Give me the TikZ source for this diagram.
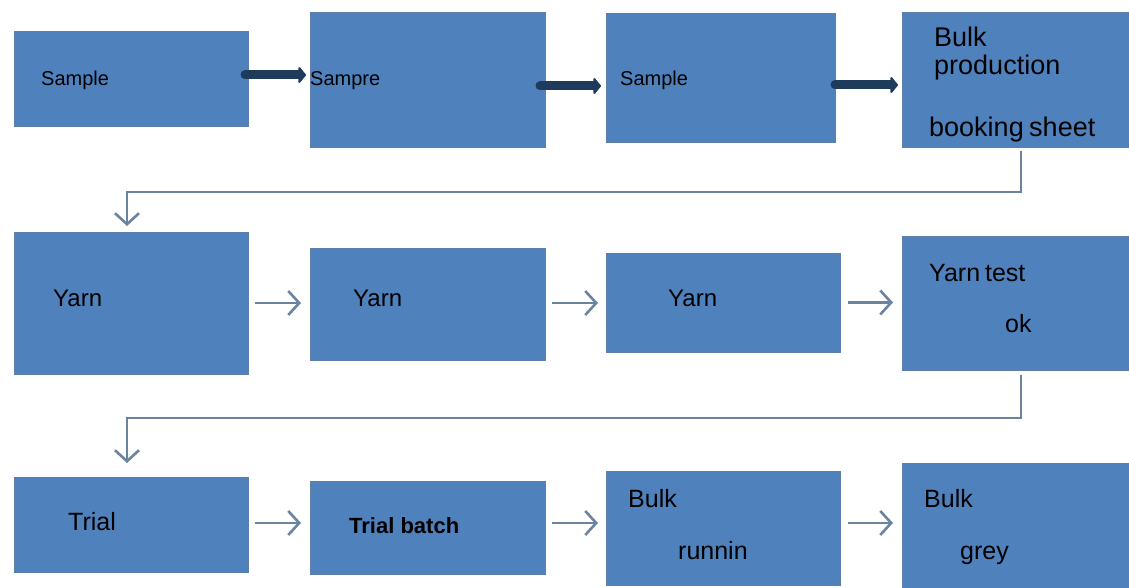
\documentclass[tikz,border=0pt]{standalone}
\usepackage{fontspec}
\setmainfont{Liberation Sans}
\usetikzlibrary{arrows.meta}
\definecolor{boxblue}{HTML}{4F81BD}
\definecolor{boxedge}{HTML}{5E7FA8}
\definecolor{navy}{HTML}{1F3B5C}
\definecolor{flowgray}{HTML}{6A84A0}
\tikzset{
  blk/.style={draw=boxedge, line width=1pt, fill=boxblue, inner sep=0pt, outer sep=0pt, anchor=north west},
  txt/.style={anchor=base west, inner sep=0pt, text=black},
  fs/.style={font=\fontsize{#1}{#1}\selectfont},
  boldarrow/.style={draw=navy, line width=9pt, line cap=round, -{Triangle[length=8pt,width=19pt,round]}},
  flow/.style={draw=flowgray, line width=2.6pt, -{Straight Barb[length=11pt,width=24pt]}},
}
\begin{document}
\begin{tikzpicture}[x=1pt,y=-1pt]
\useasboundingbox (0,0) rectangle (1129,588);
% row 1
\node[blk, minimum width=234pt, minimum height=95pt] (b1) at (14,32) {};
\node[blk, minimum width=235pt, minimum height=135pt] (b2) at (310,13) {};
\node[blk, minimum width=229pt, minimum height=129pt] (b3) at (606,14) {};
\node[blk, minimum width=232pt, minimum height=135pt] (b4) at (902,13) {};
% row 2
\node[blk, minimum width=234pt, minimum height=142pt] (b5) at (14,232) {};
\node[blk, minimum width=235pt, minimum height=112pt] (b6) at (310,248) {};
\node[blk, minimum width=234pt, minimum height=99pt] (b7) at (606,253) {};
\node[blk, minimum width=232pt, minimum height=134pt] (b8) at (902,236) {};
% row 3
\node[blk, minimum width=234pt, minimum height=95pt] (b9) at (14,477) {};
\node[blk, minimum width=235pt, minimum height=93pt] (b10) at (310,481) {};
\node[blk, minimum width=234pt, minimum height=114pt] (b11) at (606,471) {};
\node[blk, minimum width=232pt, minimum height=130pt] (b12) at (902,463) {};

% texts
\node[txt, fs=20] (t1) at (41,86) {Sample};
\node[txt, fs=20] (t2) at (310,86) {Sampre};
\node[txt, fs=20] (t3) at (620,86) {Sample};
\node[txt, fs=27] (t4a) at (934,47) {Bulk};
\node[txt, fs=27] (t4b) at (934,75) {production};
\node[txt, fs=27] (t4c) at (929,137) {booking\kern-2pt\ sheet};
\node[txt, fs=24] (t5) at (53,306) {Yarn};
\node[txt, fs=24] (t6) at (353,306) {Yarn};
\node[txt, fs=24] (t7) at (668,306) {Yarn};
\node[txt, fs=25] (t8a) at (929,281) {Yarn\kern-2pt\ test};
\node[txt, fs=25] (t8b) at (1005,332) {ok};
\node[txt, fs=25] (t9) at (68,530) {Trial};
\node[txt, fs=22] (t10) at (349,533) {\bfseries Trial batch};
\node[txt, fs=25] (t11a) at (628,507) {Bulk};
\node[txt, fs=25] (t11b) at (678,559) {runnin};
\node[txt, fs=25] (t12a) at (924,507) {Bulk};
\node[txt, fs=25] (t12b) at (960,559) {grey};

% row 1 bold arrows
\draw[boldarrow] ([xshift=-3pt,yshift=4.5pt]b1.east) -- ([xshift=-4pt,yshift=5.5pt]b2.west);
\draw[boldarrow] ([xshift=-5pt,yshift=-5.5pt]b2.east) -- ([xshift=-5pt,yshift=-7.5pt]b3.west);
\draw[boldarrow] ([xshift=0pt,yshift=-6.5pt]b3.east) -- ([xshift=-4pt,yshift=-4.5pt]b4.west);

% elbow connectors
\draw[flow] ([xshift=3pt,yshift=-3pt]b4.south) -- ++(0,41) -| ([xshift=-4pt,yshift=6pt]b5.north);
\draw[flow] ([xshift=3pt,yshift=-5pt]b8.south) -- ++(0,43) -| ([xshift=-4pt,yshift=14pt]b9.north);

% start points of the thin arrows
\coordinate (s5) at ([xshift=7pt]b5.east);
\coordinate (s6) at ([xshift=7pt,yshift=1pt]b6.east);
\coordinate (s7) at ([xshift=8pt]b7.east);
\coordinate (s9) at ([xshift=7pt,yshift=1.5pt]b9.east);
\coordinate (s10) at ([xshift=7pt,yshift=4.5pt]b10.east);
\coordinate (s11) at ([xshift=8pt,yshift=5pt]b11.east);

% row 2 arrows
\draw[flow] (s5) -- ([xshift=-9pt]b6.west |- s5);
\draw[flow] (s6) -- ([xshift=-8pt]b7.west |- s6);
\draw[flow] (s7) -- ([xshift=-9pt]b8.west |- s7);

% row 3 arrows
\draw[flow] (s9) -- ([xshift=-9pt]b10.west |- s9);
\draw[flow] (s10) -- ([xshift=-8pt]b11.west |- s10);
\draw[flow] (s11) -- ([xshift=-9pt]b12.west |- s11);
\end{tikzpicture}
\end{document}
